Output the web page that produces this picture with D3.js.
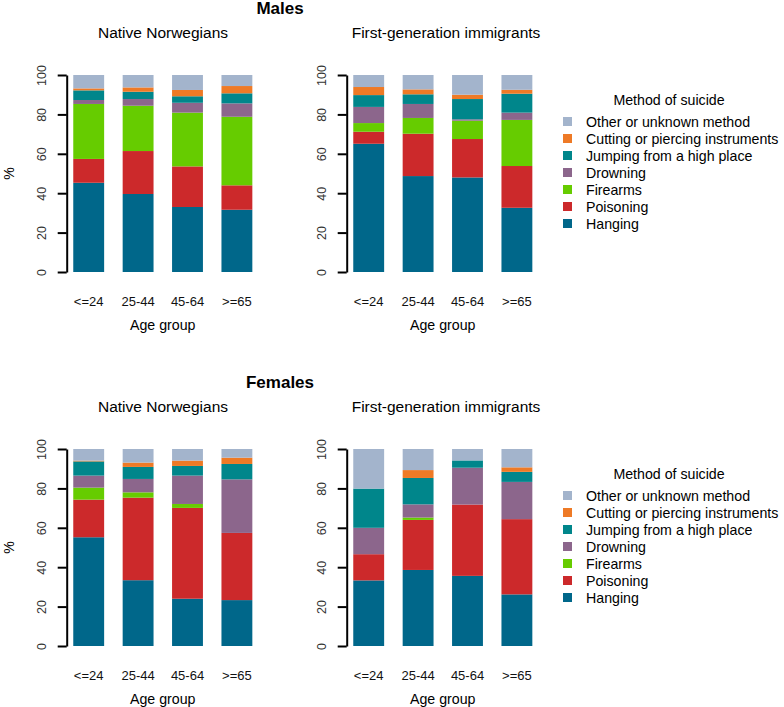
<!DOCTYPE html>
<html>
<head>
<meta charset="utf-8">
<script src="https://cdn.jsdelivr.net/npm/d3@7"></script>
<style>
  body { margin: 0; background: #fff; }
  svg { display: block; font-family: "Liberation Sans", Arial, sans-serif; }
</style>
</head>
<body>
<svg></svg>
<script>
let ageGroups = ["<=24", "25-44", "45-64", ">=65"];
let methods = ["Hanging", "Poisoning", "Firearms", "Drowning",
               "Jumping from a high place", "Cutting or piercing instruments", "Other or unknown method"];
let colors = ["#00678a", "#cc292b", "#66cc00", "#8c668c", "#00868b", "#ee7a26", "#a3b4cc"];

// one row per method (bottom to top), one value per age group, in %
let maleNative = [
  [45.3, 39.6, 33.0, 31.6],
  [12.1, 21.8, 20.6, 12.4],
  [27.9, 23.0, 27.3, 34.8],
  [2.0, 3.4, 5.0, 6.8],
  [4.9, 3.7, 3.3, 5.1],
  [1.0, 2.2, 3.2, 3.7],
  [6.8, 6.3, 7.6, 5.6]
];
let maleImmigrant = [
  [65.1, 48.7, 48.0, 32.6],
  [6.1, 21.5, 19.5, 21.2],
  [4.4, 8.0, 9.3, 23.4],
  [8.2, 7.1, 0.7, 3.7],
  [6.0, 4.9, 10.3, 9.6],
  [4.1, 2.5, 2.2, 2.0],
  [6.1, 7.3, 10.0, 7.5]
];
let femaleNative = [
  [55.2, 33.4, 24.0, 23.3],
  [19.1, 41.9, 46.1, 34.1],
  [6.1, 2.7, 2.0, 0],
  [6.1, 6.8, 14.4, 27.2],
  [7.2, 6.1, 4.9, 7.8],
  [0.4, 2.2, 2.7, 3.2],
  [5.9, 6.9, 5.9, 4.4]
];
let femaleImmigrant = [
  [33.3, 38.6, 35.6, 26.2],
  [13.3, 25.4, 36.2, 38.2],
  [0, 1.2, 0, 0],
  [13.4, 6.7, 18.7, 18.9],
  [19.9, 13.4, 3.7, 5.1],
  [0, 4.0, 0, 2.3],
  [20.1, 10.7, 5.8, 9.3]
];

let width = 784;
let height = 707;

let svg = d3.select("svg").attr("width", width).attr("height", height);

let color = d3.scaleOrdinal().domain(methods).range(colors);

let xScale = d3.scaleBand()
  .domain(ageGroups)
  .range([64, 261.6])
  .paddingInner(0.375)
  .paddingOuter(0.1875);

let yScale = d3.scaleLinear().domain([0, 100]).range([272, 75]);

let drawPanel = (g, rows) => {
  let table = ageGroups.map((a, i) => {
    let d = { age: a };
    methods.forEach((m, j) => d[m] = rows[j][i]);
    return d;
  });
  let series = d3.stack().keys(methods)(table);

  g.selectAll("g.layer")
    .data(series)
    .enter()
    .append("g")
    .attr("class", "layer")
    .attr("fill", (s) => color(s.key))
    .selectAll("rect")
    .data((s) => s)
    .enter()
    .append("rect")
    .attr("x", (d) => xScale(d.data.age))
    .attr("width", xScale.bandwidth())
    .attr("y", (d) => yScale(d[1]))
    .attr("height", (d) => yScale(d[0]) - yScale(d[1]));

  let yAxis = d3.axisLeft(yScale)
    .tickValues([0, 20, 40, 60, 80, 100])
    .tickSize(9)
    .tickSizeOuter(0);

  let ya = g.append("g")
    .attr("transform", "translate(66.7,0)")
    .call(yAxis);
  ya.select(".domain").attr("stroke-width", 2);
  ya.selectAll(".tick line").attr("stroke-width", 2);
  ya.selectAll(".tick text")
    .attr("x", 0)
    .attr("dy", null)
    .attr("text-anchor", "middle")
    .attr("dominant-baseline", "central")
    .attr("transform", "translate(-25,0) rotate(-90)")
    .attr("font-size", 12.5)
    .attr("fill", "#333")
    .attr("font-family", null);

  let xAxis = d3.axisBottom(xScale).tickSize(0);
  let xa = g.append("g")
    .attr("transform", "translate(0,272)")
    .call(xAxis);
  xa.select(".domain").remove();
  xa.selectAll(".tick text")
    .attr("y", 29)
    .attr("dy", null)
    .attr("dominant-baseline", "central")
    .attr("font-size", 13)
    .attr("fill", "#111")
    .attr("font-family", null);

  g.append("text")
    .attr("x", 162.7)
    .attr("y", 325)
    .attr("text-anchor", "middle")
    .attr("dominant-baseline", "central")
    .attr("font-size", 14.2)
    .text("Age group");
};

let drawBlock = (title, nativeRows, immigrantRows, yOffset) => {
  let block = svg.append("g").attr("transform", "translate(0," + yOffset + ")");

  block.append("text")
    .attr("x", 280).attr("y", 14)
    .attr("text-anchor", "middle")
    .attr("font-weight", "bold")
    .attr("font-size", 17)
    .text(title);

  block.append("text")
    .attr("x", 163).attr("y", 32)
    .attr("text-anchor", "middle")
    .attr("dominant-baseline", "central")
    .attr("font-size", 15.5)
    .text("Native Norwegians");

  block.append("text")
    .attr("x", 446).attr("y", 32)
    .attr("text-anchor", "middle")
    .attr("dominant-baseline", "central")
    .attr("font-size", 15.5)
    .text("First-generation immigrants");

  block.append("text")
    .attr("transform", "translate(9,173.5) rotate(-90)")
    .attr("text-anchor", "middle")
    .attr("dominant-baseline", "central")
    .attr("font-size", 14)
    .text("%");

  drawPanel(block.append("g"), nativeRows);
  drawPanel(block.append("g").attr("transform", "translate(280,0)"), immigrantRows);

  // legend, top entry is the top of the stack
  let legend = block.append("g");
  legend.append("text")
    .attr("x", 669).attr("y", 100)
    .attr("text-anchor", "middle")
    .attr("dominant-baseline", "central")
    .attr("font-size", 14.2)
    .text("Method of suicide");

  let items = methods.slice().reverse();
  let rows = legend.selectAll("g.item")
    .data(items)
    .enter()
    .append("g")
    .attr("class", "item")
    .attr("transform", (d, i) => "translate(0," + (121.5 + i * 17) + ")");
  rows.append("rect")
    .attr("x", 563).attr("y", -4.5)
    .attr("width", 9).attr("height", 9)
    .attr("fill", (d) => color(d));
  rows.append("text")
    .attr("x", 586).attr("y", 0)
    .attr("dominant-baseline", "central")
    .attr("font-size", 14.2)
    .text((d) => d);
};

drawBlock("Males", maleNative, maleImmigrant, 0);
drawBlock("Females", femaleNative, femaleImmigrant, 374);
</script>
</body>
</html>
